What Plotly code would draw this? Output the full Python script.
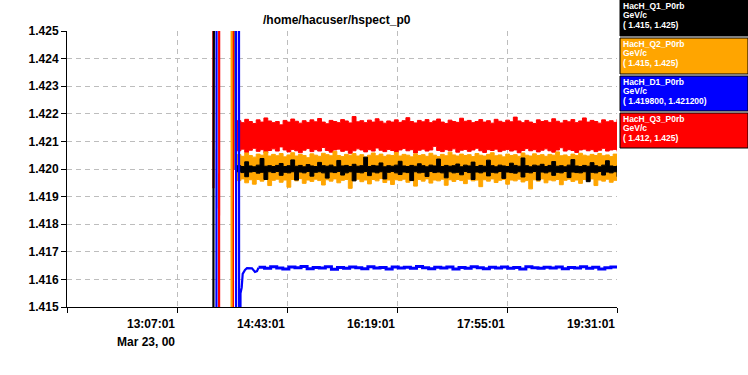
import plotly.graph_objects as go
import pandas as pd

DAY = "2000-03-23 "
X_START, X_END = "11:31:01", "19:31:01"
TITLE = "/home/hacuser/hspect_p0"
TICK_TIMES = ["11:31:01", "13:07:01", "14:43:01", "16:19:01", "17:55:01", "19:31:01"]
TICK_TEXT = ["", "13:07:01", "14:43:01", "16:19:01", "17:55:01", "19:31:01"]
DATE_TEXT = "Mar 23, 00"
Y_TICKS = [1.415, 1.416, 1.417, 1.418, 1.419, 1.420, 1.421, 1.422, 1.423, 1.424, 1.425]

SERIES_NAMES = ["HacH_Q1_P0rb", "HacH_Q2_P0rb", "HacH_D1_P0rb", "HacH_Q3_P0rb"]
SERIES_UNITS = ["GeV/c", "GeV/c", "GeV/c", "GeV/c"]
SERIES_RANGES = ["( 1.415, 1.425)", "( 1.415, 1.425)", "( 1.419800, 1.421200)", "( 1.412, 1.425)"]
SERIES_COLORS = ["#000000", "#FFA500", "#0000FF", "#FF0000"]

BAND_START, BAND_END = "13:59:25", "19:31:01"

red_hi = [1.42175,1.42168,1.42180,1.42172,1.42165,1.42178,1.42170,1.42185,1.42174,1.42168,
          1.42172,1.42160,1.42176,1.42170,1.42181,1.42173,1.42166,1.42175,1.42169,1.42178,
          1.42171,1.42183,1.42170,1.42164,1.42176,1.42172,1.42168,1.42179,1.42174,1.42167,
          1.42190,1.42171,1.42175,1.42168,1.42177,1.42170,1.42182,1.42173,1.42166,1.42174,
          1.42170,1.42178,1.42169,1.42175,1.42186,1.42172,1.42167,1.42176,1.42171,1.42179,
          1.42168,1.42174,1.42181,1.42170,1.42165,1.42177,1.42172,1.42169,1.42184,1.42173,
          1.42176,1.42168,1.42172,1.42179,1.42170,1.42175,1.42166,1.42180,1.42173,1.42169,
          1.42177,1.42171,1.42188,1.42174,1.42168,1.42176,1.42170,1.42165,1.42178,1.42172,
          1.42175,1.42169,1.42182,1.42173,1.42167,1.42176,1.42171,1.42179,1.42168,1.42174,
          1.42185,1.42170,1.42176,1.42172,1.42166,1.42178,1.42171,1.42175,1.42169,1.42180]
red_lo = [1.42066,1.42072,1.42060,1.42068,1.42075,1.42064,1.42070,1.42058,1.42067,1.42073,
          1.42065,1.42080,1.42069,1.42062,1.42071,1.42066,1.42059,1.42068,1.42074,1.42063,
          1.42070,1.42065,1.42078,1.42067,1.42061,1.42069,1.42072,1.42064,1.42068,1.42057,
          1.42066,1.42073,1.42069,1.42062,1.42070,1.42065,1.42076,1.42068,1.42063,1.42071,
          1.42067,1.42060,1.42069,1.42074,1.42066,1.42070,1.42058,1.42068,1.42072,1.42065,
          1.42069,1.42082,1.42067,1.42063,1.42070,1.42066,1.42073,1.42061,1.42068,1.42071,
          1.42064,1.42069,1.42075,1.42066,1.42060,1.42070,1.42067,1.42072,1.42063,1.42068,
          1.42071,1.42065,1.42069,1.42059,1.42067,1.42074,1.42066,1.42070,1.42062,1.42068,
          1.42073,1.42066,1.42061,1.42069,1.42077,1.42065,1.42070,1.42067,1.42060,1.42069,
          1.42072,1.42066,1.42070,1.42063,1.42068,1.42075,1.42065,1.42069,1.42071,1.42064]
orange_hi = [1.42052,1.42046,1.42058,1.42049,1.42043,1.42054,1.42050,1.42062,1.42047,1.42053,
             1.42048,1.42056,1.42044,1.42051,1.42059,1.42047,1.42053,1.42049,1.42041,1.42055,
             1.42050,1.42046,1.42057,1.42052,1.42048,1.42064,1.42049,1.42045,1.42053,1.42050,
             1.42056,1.42047,1.42052,1.42043,1.42050,1.42058,1.42048,1.42054,1.42046,1.42051,
             1.42049,1.42060,1.42047,1.42053,1.42050,1.42044,1.42055,1.42049,1.42052,1.42046,
             1.42057,1.42050,1.42045,1.42053,1.42048,1.42061,1.42051,1.42047,1.42054,1.42049,
             1.42052,1.42045,1.42056,1.42050,1.42047,1.42053,1.42059,1.42048,1.42051,1.42044,
             1.42054,1.42049,1.42052,1.42046,1.42058,1.42050,1.42047,1.42055,1.42049,1.42052,
             1.42046,1.42053,1.42050,1.42062,1.42048,1.42051,1.42045,1.42054,1.42049,1.42057,
             1.42050,1.42047,1.42053,1.42049,1.42056,1.42048,1.42051,1.42045,1.42054,1.42050]
orange_lo = [1.41958,1.41964,1.41950,1.41961,1.41945,1.41962,1.41956,1.41966,1.41940,1.41959,
             1.41963,1.41952,1.41960,1.41934,1.41962,1.41957,1.41965,1.41948,1.41960,1.41955,
             1.41963,1.41958,1.41942,1.41961,1.41956,1.41964,1.41950,1.41959,1.41962,1.41930,
             1.41958,1.41963,1.41954,1.41960,1.41946,1.41962,1.41957,1.41965,1.41951,1.41960,
             1.41944,1.41961,1.41958,1.41963,1.41952,1.41959,1.41938,1.41962,1.41956,1.41964,
             1.41949,1.41960,1.41957,1.41963,1.41941,1.41961,1.41955,1.41962,1.41958,1.41947,
             1.41963,1.41957,1.41960,1.41936,1.41961,1.41956,1.41964,1.41951,1.41959,1.41962,
             1.41945,1.41960,1.41957,1.41963,1.41953,1.41958,1.41928,1.41961,1.41956,1.41964,
             1.41950,1.41960,1.41957,1.41962,1.41943,1.41959,1.41963,1.41955,1.41960,1.41948,
             1.41962,1.41957,1.41964,1.41940,1.41960,1.41956,1.41963,1.41952,1.41959,1.41961]
black_hi = [1.42012,1.42009,1.42026,1.42011,1.42008,1.42014,1.42038,1.42010,1.42012,1.42009,
            1.42013,1.42020,1.42009,1.42012,1.42033,1.42010,1.42013,1.42008,1.42016,1.42011,
            1.42009,1.42024,1.42012,1.42010,1.42014,1.42008,1.42031,1.42011,1.42013,1.42009,
            1.42017,1.42010,1.42012,1.42043,1.42009,1.42013,1.42011,1.42022,1.42008,1.42012,
            1.42010,1.42014,1.42028,1.42011,1.42009,1.42013,1.42010,1.42019,1.42012,1.42008,
            1.42014,1.42011,1.42036,1.42009,1.42013,1.42010,1.42012,1.42018,1.42008,1.42014,
            1.42011,1.42025,1.42009,1.42013,1.42010,1.42032,1.42012,1.42008,1.42014,1.42011,
            1.42009,1.42021,1.42013,1.42010,1.42040,1.42012,1.42008,1.42014,1.42011,1.42017,
            1.42009,1.42013,1.42027,1.42010,1.42012,1.42008,1.42014,1.42034,1.42011,1.42009,
            1.42013,1.42010,1.42023,1.42012,1.42008,1.42014,1.42030,1.42011,1.42009,1.42013]
black_lo = [1.41990,1.41987,1.41972,1.41989,1.41991,1.41985,1.41988,1.41962,1.41990,1.41987,
            1.41991,1.41977,1.41988,1.41986,1.41990,1.41960,1.41989,1.41986,1.41991,1.41974,
            1.41988,1.41990,1.41986,1.41967,1.41989,1.41987,1.41991,1.41978,1.41986,1.41990,
            1.41957,1.41988,1.41986,1.41991,1.41976,1.41989,1.41986,1.41990,1.41964,1.41988,
            1.41991,1.41986,1.41980,1.41989,1.41987,1.41958,1.41990,1.41986,1.41988,1.41973,
            1.41991,1.41987,1.41989,1.41986,1.41968,1.41990,1.41986,1.41988,1.41979,1.41991,
            1.41987,1.41962,1.41989,1.41986,1.41990,1.41975,1.41988,1.41986,1.41991,1.41966,
            1.41989,1.41987,1.41985,1.41990,1.41971,1.41988,1.41986,1.41991,1.41960,1.41989,
            1.41986,1.41990,1.41977,1.41988,1.41986,1.41991,1.41969,1.41989,1.41987,1.41986,
            1.41990,1.41954,1.41988,1.41986,1.41991,1.41978,1.41989,1.41986,1.41990,1.41972]

BLUE_STEADY_START = "14:18:09"
blue_steady = [1.41644,1.41640,1.41646,1.41641,1.41638,1.41645,1.41642,1.41647,1.41639,1.41643,
               1.41641,1.41646,1.41637,1.41643,1.41640,1.41645,1.41642,1.41639,1.41646,1.41641,
               1.41643,1.41638,1.41645,1.41641,1.41644,1.41640,1.41647,1.41642,1.41639,1.41644,
               1.41641,1.41645,1.41638,1.41643,1.41640,1.41646,1.41642,1.41639,1.41644,1.41641,
               1.41645,1.41640,1.41643,1.41638,1.41646,1.41642,1.41640,1.41644,1.41641,1.41645,
               1.41639,1.41643,1.41641,1.41646,1.41640,1.41644,1.41638,1.41642,1.41645,1.41641]

# start-up transients (values far off-scale are clipped by the axes)
red_spike_t = ["13:38:35", "13:38:50", None, "13:43:40", "13:43:55", None, "13:55:43", "13:55:55"]
red_spike_v = [1.44, 1.4193, None, 1.40, 1.44, None, 1.40, 1.44]
orange_spike_t = ["13:54:35", "13:54:49"]
orange_spike_v = [1.40, 1.44]
black_spike_t = ["13:38:42", "13:38:52", "13:40:00", None, "13:57:54", "13:58:07", "13:59:25"]
black_spike_v = [1.405, 1.4193, 1.44, None, 1.44, 1.4200, 1.4200]
blue_spike_t = ["13:41:24", "13:41:35", None, "13:58:30", "13:58:41", None,
                "14:01:02", "14:01:18", "14:02:11", "14:02:26", "14:03:29", "14:04:21",
                "14:06:22", "14:08:06", "14:12:28", "14:15:05", "14:16:50", "14:18:09"]
blue_spike_v = [1.40, 1.44, None, 1.40, 1.44, None,
                1.44, 1.40, 1.40, 1.4155, 1.4157, 1.4162,
                1.41634, 1.41641, 1.41640, 1.41627, 1.41630, 1.41642]


def ts(t):
    return None if t is None else DAY + t


band_x = pd.date_range(DAY + BAND_START, DAY + BAND_END, periods=len(red_hi))
blue_x = pd.date_range(DAY + BLUE_STEADY_START, DAY + X_END, periods=len(blue_steady))

fig = go.Figure()


def add_band(lo, hi, color):
    fig.add_trace(go.Scatter(x=band_x, y=lo, mode="lines", line=dict(color=color, width=1, shape="hv"),
                             showlegend=False, hoverinfo="skip"))
    fig.add_trace(go.Scatter(x=band_x, y=hi, mode="lines", line=dict(color=color, width=1, shape="hv"),
                             fill="tonexty", fillcolor=color, showlegend=False, hoverinfo="skip"))


add_band(red_lo, red_hi, SERIES_COLORS[3])
add_band(orange_lo, orange_hi, SERIES_COLORS[1])
add_band(black_lo, black_hi, SERIES_COLORS[0])

fig.add_trace(go.Scatter(x=blue_x, y=blue_steady, mode="lines",
                         line=dict(color=SERIES_COLORS[2], width=3, shape="hv"), showlegend=False))

for tt, vv, col in [(red_spike_t, red_spike_v, SERIES_COLORS[3]),
                    (orange_spike_t, orange_spike_v, SERIES_COLORS[1]),
                    (black_spike_t, black_spike_v, SERIES_COLORS[0]),
                    (blue_spike_t, blue_spike_v, SERIES_COLORS[2])]:
    fig.add_trace(go.Scatter(x=[ts(t) for t in tt], y=vv, mode="lines", connectgaps=False,
                             line=dict(color=col, width=2.2), showlegend=False))

W, H = 748, 375
L, R, T, B = 67, 617, 31, 307
FONT = "Liberation Sans, Arial, sans-serif"


def px(xp):
    return (xp - L) / (R - L)


def py(yp):
    return (B - yp) / (B - T)


annotations = []
for t, lab in zip(TICK_TIMES, TICK_TEXT):
    if lab:
        annotations.append(dict(x=DAY + t, xref="x", y=0, yref="paper", yanchor="top", xanchor="right",
                                yshift=-8, text=lab, showarrow=False,
                                font=dict(family=FONT, size=12, color="black", weight="bold")))
annotations.append(dict(x=DAY + TICK_TIMES[1], xref="x", y=0, yref="paper", yanchor="top", xanchor="right",
                        yshift=-26, text=DATE_TEXT, showarrow=False,
                        font=dict(family=FONT, size=12, color="black", weight="bold")))
annotations.append(dict(x=0.49, xref="paper", y=py(20), yref="paper", xanchor="center", yanchor="middle",
                        text=TITLE, showarrow=False,
                        font=dict(family=FONT, size=12, color="black", weight="bold")))

shapes = []
box_rows = [(0, 36), (38, 74), (76, 111), (113, 148)]
for i, (y0, y1) in enumerate(box_rows):
    shapes.append(dict(type="rect", xref="paper", yref="paper", x0=px(620), x1=px(748), y0=py(y1), y1=py(y0),
                       fillcolor=SERIES_COLORS[i], line=dict(color="black", width=1), layer="above"))
    for j, txt in enumerate([SERIES_NAMES[i], SERIES_UNITS[i], SERIES_RANGES[i]]):
        annotations.append(dict(x=px(621), xref="paper", y=py(y0 + 6 + 9.3 * j), yref="paper",
                                xanchor="left", yanchor="middle", text=txt, showarrow=False,
                                font=dict(family=FONT, size=8.5, color="white", weight="bold")))

grid = dict(showgrid=True, gridcolor="#bdbdbd", griddash="5px,4px", gridwidth=1)
fig.update_layout(
    width=W, height=H, margin=dict(l=L, r=W - R, t=T, b=H - B, pad=0),
    plot_bgcolor="white", paper_bgcolor="white", showlegend=False,
    xaxis=dict(range=[DAY + X_START, DAY + X_END], tickmode="array",
               tickvals=[DAY + t for t in TICK_TIMES], ticktext=[""] * len(TICK_TIMES),
               ticks="outside", ticklen=5, tickcolor="black", showline=True, linecolor="black",
               linewidth=1, zeroline=False, **grid),
    yaxis=dict(range=[Y_TICKS[0], Y_TICKS[-1]], tickmode="array", tickvals=Y_TICKS,
               ticktext=[f"{v:.3f}" for v in Y_TICKS],
               ticks="outside", ticklen=5, tickcolor="black", showline=True, linecolor="black",
               linewidth=1, zeroline=False,
               tickfont=dict(family=FONT, size=12, color="black", weight="bold"), **grid),
    annotations=annotations, shapes=shapes,
)

fig.write_html("out.html")
